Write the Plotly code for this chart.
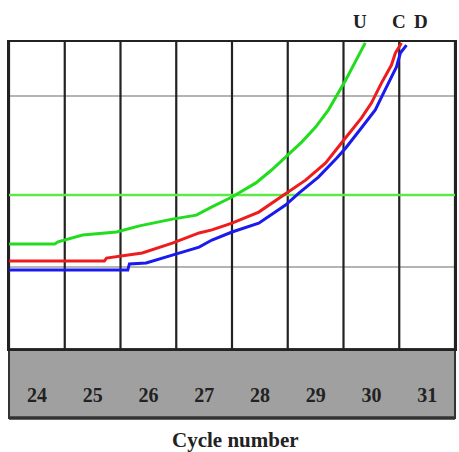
import plotly.graph_objects as go

# ---- data ----
cycles_U = [23.50, 24.32, 24.38, 24.82, 25.43, 25.84, 26.43, 26.86, 27.14, 27.50,
            27.93, 28.21, 28.46, 28.75, 29.00, 29.23, 29.54, 29.89]
fluor_U = [34.2, 34.2, 34.9, 37.1, 38.1, 40.1, 42.3, 43.6, 46.3, 49.5,
           54.1, 58.3, 62.5, 67.4, 72.3, 77.9, 87.6, 99.7]

cycles_C = [23.50, 25.21, 25.25, 25.48, 25.89, 26.43, 26.91, 27.14, 27.50, 27.98,
            28.34, 28.48, 28.82, 29.18, 29.52, 29.82, 30.00, 30.18, 30.36, 30.43, 30.54]
fluor_C = [28.7, 28.7, 29.6, 30.3, 31.3, 34.5, 37.8, 38.8, 41.0, 44.6,
           49.2, 50.8, 55.0, 60.6, 68.4, 75.2, 80.1, 86.6, 92.5, 96.4, 99.7]

cycles_D = [23.50, 25.63, 25.66, 25.96, 26.43, 26.91, 27.14, 27.50, 27.98, 28.46,
            28.70, 29.05, 29.38, 29.54, 29.82, 30.07, 30.27, 30.45, 30.52, 30.63]
fluor_D = [25.7, 25.7, 27.7, 28.0, 30.6, 33.2, 35.5, 38.1, 41.0, 46.9,
           50.8, 56.0, 62.2, 65.5, 72.0, 77.9, 85.3, 91.9, 96.4, 99.0]

tick_cycles = [24, 25, 26, 27, 28, 29, 30, 31]
tick_labels = ["24", "25", "26", "27", "28", "29", "30", "31"]
cell_bounds = [23.5, 24.5, 25.5, 26.5, 27.5, 28.5, 29.5, 30.5, 31.5]
gray_levels = [26.7, 82.4]
threshold = 50.2

curve_labels = [("U", 29.79), ("C", 30.50), ("D", 30.89)]

SERIF = "Liberation Serif, Times New Roman, serif"

fig = go.Figure()
for xs, ys, col in [(cycles_U, fluor_U, "#22dd1e"),
                    (cycles_C, fluor_C, "#ee1c1c"),
                    (cycles_D, fluor_D, "#1a1aee")]:
    fig.add_trace(go.Scatter(x=xs, y=ys, mode="lines",
                             line=dict(color=col, width=3),
                             showlegend=False, hoverinfo="skip"))

shapes = []
# gray band under plot with tick labels
shapes.append(dict(type="rect", xref="paper", yref="paper", x0=0, x1=1,
                   y0=-0.225, y1=0, fillcolor="#a0a0a0",
                   line=dict(color="#333333", width=2), layer="below"))
shapes.append(dict(type="line", xref="paper", yref="paper", x0=0, x1=1,
                   y0=-0.225, y1=-0.225, line=dict(color="#333333", width=3.5)))
# horizontal gray lines
for g in gray_levels:
    shapes.append(dict(type="line", xref="paper", yref="y", x0=0, x1=1, y0=g, y1=g,
                       line=dict(color="#b4b4b4", width=2), layer="below"))
# vertical cell boundaries
for b in cell_bounds:
    shapes.append(dict(type="line", xref="x", yref="paper", x0=b, x1=b, y0=0, y1=1,
                       line=dict(color="#222222", width=2.2), layer="below"))
# threshold line
shapes.append(dict(type="line", xref="paper", yref="y", x0=0, x1=1,
                   y0=threshold, y1=threshold,
                   line=dict(color="#5fe84a", width=2.5), layer="below"))

annotations = [dict(text="Cycle number", xref="paper", yref="paper",
                    x=0.507, y=-0.296, xanchor="center", yanchor="middle",
                    showarrow=False,
                    font=dict(family=SERIF, size=21, color="#222", weight="bold"))]
for lab, xc in curve_labels:
    annotations.append(dict(text=lab, xref="x", yref="paper",
                            x=xc, y=1.068, xanchor="center", yanchor="middle",
                            showarrow=False,
                            font=dict(family=SERIF, size=19, color="#222", weight="bold")))

fig.update_layout(
    width=459, height=452,
    margin=dict(l=9, r=2, t=42, b=103),
    paper_bgcolor="white", plot_bgcolor="white",
    shapes=shapes, annotations=annotations,
    xaxis=dict(range=[23.5, 31.5], tickvals=tick_cycles, ticktext=tick_labels,
               showgrid=False, zeroline=False, ticks="outside", ticklen=27,
               tickcolor="rgba(0,0,0,0)",
               tickfont=dict(family=SERIF, size=20, color="#222", weight="bold"),
               showline=True, linecolor="#222222", linewidth=2.2, mirror=True),
    yaxis=dict(range=[0, 100], showgrid=False, zeroline=False,
               showticklabels=False, ticks="",
               showline=True, linecolor="#222222", linewidth=2.2, mirror=True),
)

fig.write_html("out.html", config={"displayModeBar": False},
               post_script="document.body.style.margin='0';document.body.style.overflow='hidden';")
